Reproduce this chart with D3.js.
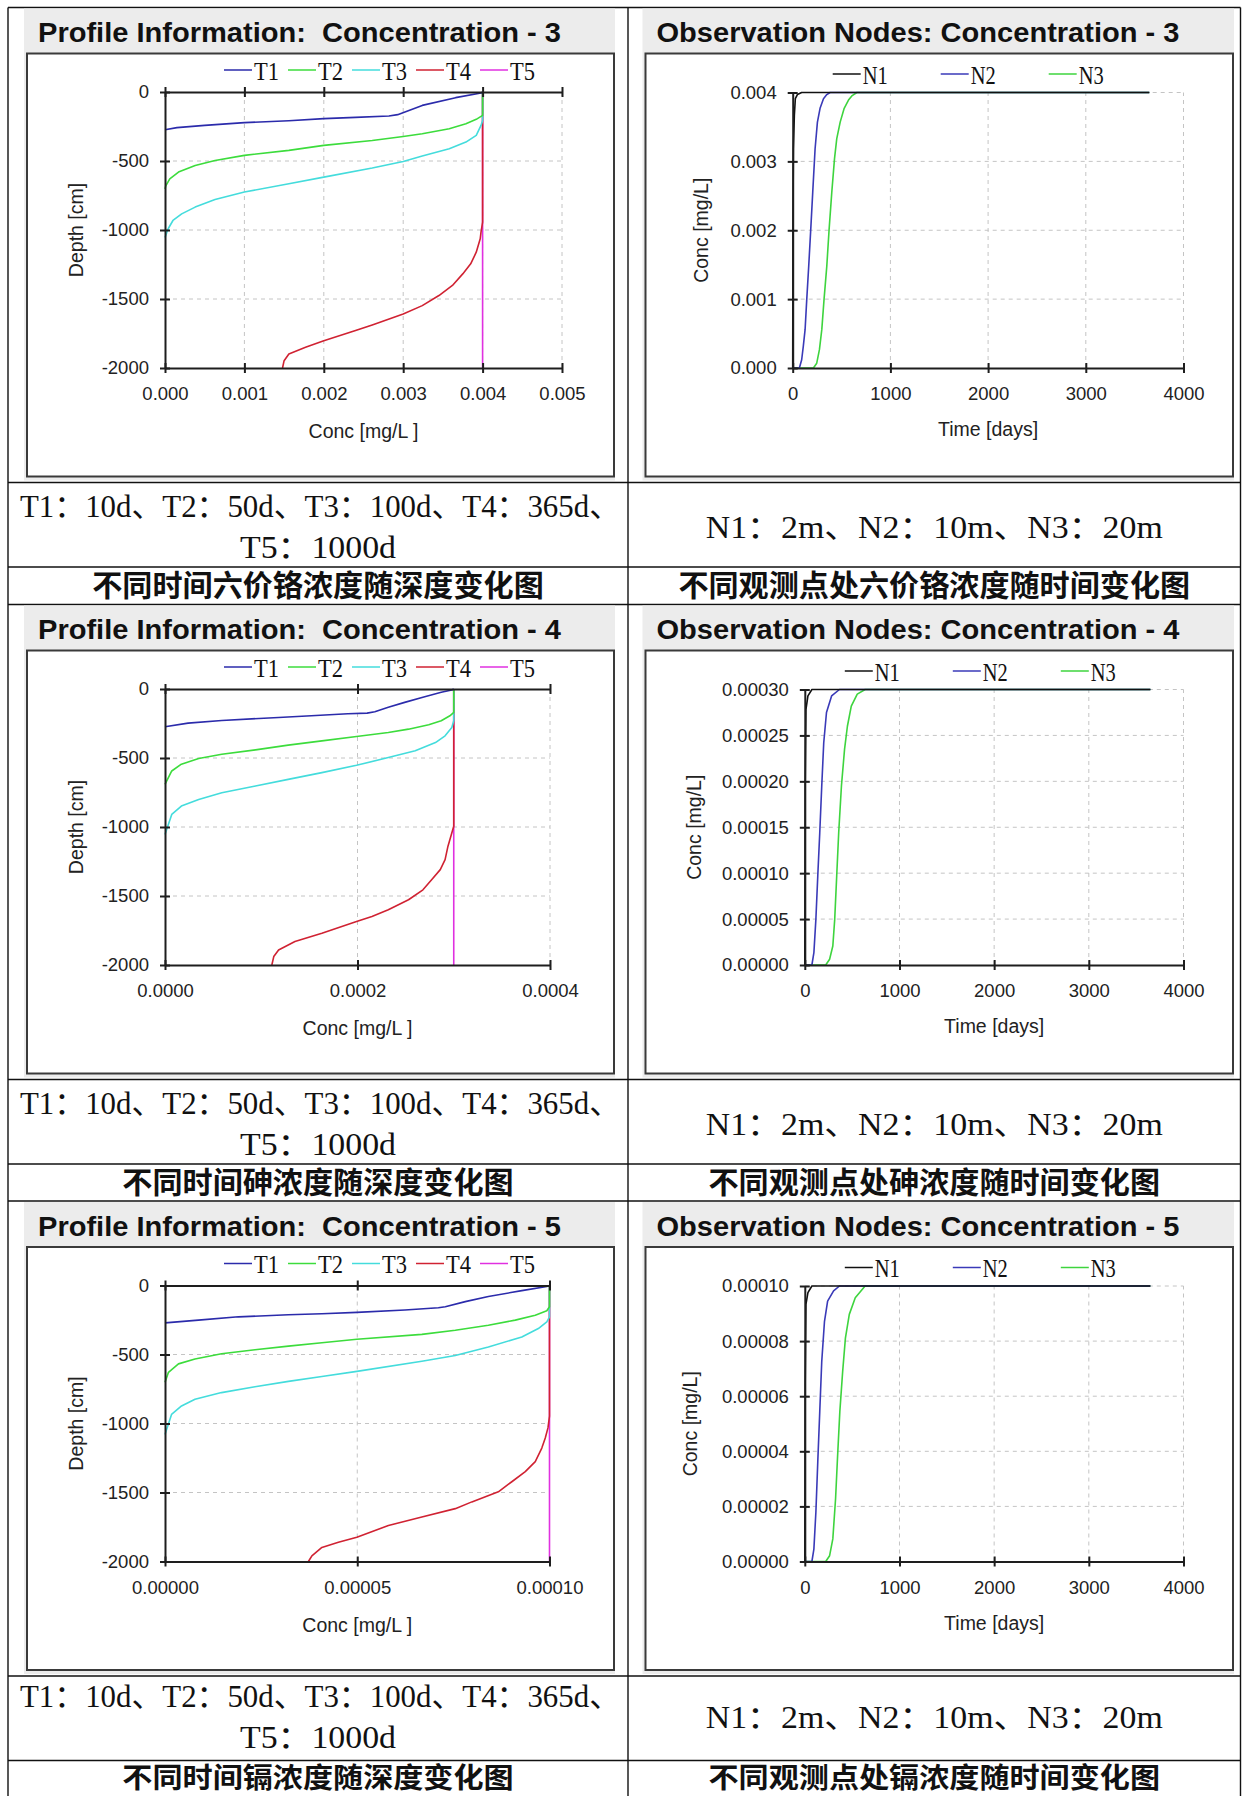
<!DOCTYPE html>
<html>
<head>
<meta charset="utf-8">
<title>HYDRUS concentration charts</title>
<script src="https://cdn.jsdelivr.net/npm/d3@7/dist/d3.min.js"></script>
<style>
	body { margin: 0; background: #ffffff; }
	svg { display: block; }
</style>
</head>
<body>
<svg id="sheet" width="1242" height="1796"></svg>
<script>

// ---- values ----

var profileNames = ["T1", "T2", "T3", "T4", "T5"];
var profileColors = ["#2b2bab", "#3cdc3c", "#44dcdc", "#d02232", "#e030e0"];
var nodeNames = ["N1", "N2", "N3"];
var nodeColors = ["#111111", "#3a3ab8", "#3ed43e"];

var depthTicks = [0, -500, -1000, -1500, -2000];
var depthLabels = ["0", "-500", "-1000", "-1500", "-2000"];
var timeTicks = [0, 1000, 2000, 3000, 4000];
var timeLabels = ["0", "1000", "2000", "3000", "4000"];

var prof3Ticks = [0, 0.001, 0.002, 0.003, 0.004, 0.005];
var prof3Labels = ["0.000", "0.001", "0.002", "0.003", "0.004", "0.005"];
var prof4Ticks = [0, 0.0002, 0.0004];
var prof4Labels = ["0.0000", "0.0002", "0.0004"];
var prof5Ticks = [0, 0.00005, 0.0001];
var prof5Labels = ["0.00000", "0.00005", "0.00010"];

var obs3Ticks = [0, 0.001, 0.002, 0.003, 0.004];
var obs3Labels = ["0.000", "0.001", "0.002", "0.003", "0.004"];
var obs4Ticks = [0, 0.00005, 0.0001, 0.00015, 0.0002, 0.00025, 0.0003];
var obs4Labels = ["0.00000", "0.00005", "0.00010", "0.00015", "0.00020", "0.00025", "0.00030"];
var obs5Ticks = [0, 0.00002, 0.00004, 0.00006, 0.00008, 0.0001];
var obs5Labels = ["0.00000", "0.00002", "0.00004", "0.00006", "0.00008", "0.00010"];

// profile points: [conc mg/L, depth cm]
var prof3T1 = [[0.004,0],[0.00398,-7],[0.00366,-41],[0.00324,-97],[0.00293,-164],[0.00282,-174],[0.0024,-184],[0.002,-193],[0.00156,-208],[0.001,-222],[0.0005,-242],[0.00015,-258],[0,-273]];
var prof3T2 = [[0.004,0],[0.004,-169],[0.00392,-198],[0.00379,-230],[0.00358,-266],[0.00324,-302],[0.003,-322],[0.00261,-351],[0.002,-387],[0.00156,-423],[0.001,-459],[0.00063,-496],[0.00038,-532],[0.00017,-580],[0.00006,-629],[0.00001,-680],[0,-702]];
var prof3T3 = [[0.004,0],[0.004,-206],[0.00398,-242],[0.00392,-314],[0.00379,-363],[0.00358,-411],[0.00324,-464],[0.003,-503],[0.00261,-551],[0.002,-617],[0.00156,-665],[0.001,-725],[0.00063,-779],[0.00038,-834],[0.00021,-883],[0.0001,-931],[0.00004,-991],[0,-1055]];
var prof3T4 = [[0.004,0],[0.004,-943],[0.00398,-1016],[0.00397,-1064],[0.00392,-1161],[0.00385,-1245],[0.00375,-1318],[0.00362,-1402],[0.00345,-1475],[0.00324,-1548],[0.003,-1608],[0.00261,-1688],[0.0024,-1729],[0.002,-1802],[0.00177,-1850],[0.00156,-1898],[0.0015,-1947],[0.00148,-2000]];
var prof3T5 = [[0.004,0],[0.004,-2000]];

var prof4T1 = [[0.0003,0],[0.000298,-7],[0.000287,-24],[0.000267,-61],[0.000249,-97],[0.000232,-133],[0.000218,-165],[0.00021,-175],[0.00019,-179],[0.000152,-194],[0.000118,-206],[0.000059,-228],[0.000024,-247],[0,-274]];
var prof4T2 = [[0.0003,0],[0.0003,-170],[0.000296,-194],[0.000287,-230],[0.000274,-259],[0.000253,-291],[0.000232,-315],[0.000199,-344],[0.000163,-376],[0.000128,-407],[0.000094,-441],[0.000059,-473],[0.000035,-504],[0.000017,-545],[0.000007,-594],[0,-691]];
var prof4T3 = [[0.0003,0],[0.0003,-230],[0.000298,-279],[0.000291,-339],[0.000281,-388],[0.00026,-448],[0.000232,-497],[0.000199,-553],[0.000163,-606],[0.000128,-655],[0.000094,-703],[0.000059,-752],[0.000035,-800],[0.000017,-848],[0.000007,-909],[0,-1055]];
var prof4T4 = [[0.0003,0],[0.0003,-994],[0.000297,-1067],[0.000294,-1139],[0.000291,-1236],[0.000286,-1309],[0.000277,-1382],[0.000268,-1455],[0.000253,-1527],[0.000232,-1600],[0.000215,-1648],[0.000199,-1685],[0.000163,-1770],[0.000135,-1830],[0.000118,-1891],[0.000113,-1939],[0.000111,-2000]];
var prof4T5 = [[0.0003,0],[0.0003,-2000]];

var prof5T1 = [[0.0001,0],[0.0000993,-7],[0.0000928,-37],[0.0000841,-80],[0.0000781,-117],[0.0000729,-154],[0.0000711,-161],[0.0000624,-178],[0.0000499,-195],[0.0000408,-205],[0.0000321,-212],[0.0000191,-227],[0.0000087,-251],[0,-271]];
var prof5T2 = [[0.0001,0],[0.0001,-154],[0.0000993,-183],[0.0000963,-215],[0.0000911,-251],[0.0000841,-288],[0.0000755,-324],[0.0000668,-354],[0.0000499,-390],[0.0000408,-415],[0.0000321,-439],[0.0000234,-466],[0.0000147,-495],[0.0000078,-532],[0.0000035,-568],[0.0000009,-629],[0,-702]];
var prof5T3 = [[0.0001,0],[0.0001,-227],[0.0000993,-263],[0.0000971,-312],[0.0000928,-373],[0.0000841,-446],[0.0000755,-507],[0.0000668,-549],[0.0000499,-622],[0.0000408,-659],[0.0000321,-695],[0.0000234,-734],[0.0000147,-776],[0.0000078,-824],[0.0000043,-873],[0.0000017,-934],[0,-1080]];
var prof5T4 = [[0.0001,0],[0.0001,-946],[0.0000996,-1032],[0.0000989,-1105],[0.000098,-1178],[0.0000963,-1276],[0.0000937,-1349],[0.0000902,-1422],[0.0000867,-1495],[0.0000798,-1568],[0.0000755,-1617],[0.0000668,-1678],[0.0000581,-1739],[0.0000499,-1824],[0.0000451,-1861],[0.0000408,-1898],[0.0000382,-1959],[0.0000373,-2000]];
var prof5T5 = [[0.0001,0],[0.0001,-2000]];

// observation points: [time days, conc mg/L]
var obs3N1 = [[0,0],[3,0.0022],[7,0.00318],[17,0.00367],[27,0.00391],[48,0.00397],[92,0.004],[3650,0.004]];
var obs3N2 = [[0,0],[68,0],[92,0.00012],[109,0.00032],[127,0.00056],[144,0.001],[164,0.00148],[185,0.00202],[205,0.00255],[229,0.00318],[253,0.00357],[280,0.00377],[315,0.00391],[349,0.00397],[383,0.004],[3650,0.004]];
var obs3N3 = [[0,0],[212,0],[246,0.00007],[274,0.00027],[298,0.00056],[321,0.001],[349,0.00148],[373,0.00202],[400,0.00255],[428,0.00304],[451,0.00333],[486,0.00357],[527,0.00377],[571,0.00389],[605,0.00395],[657,0.004],[3650,0.004]];

var obs4N1 = [[0,0],[4,0.000198],[12,0.000278],[33,0.000293],[75,0.0003],[3650,0.0003]];
var obs4N2 = [[0,0],[75,0],[96,0.0000134],[117,0.0000497],[137,0.0000969],[158,0.000144],[179,0.000195],[200,0.000242],[229,0.000275],[283,0.000293],[366,0.0003],[3650,0.0003]];
var obs4N3 = [[0,0],[221,0],[262,0.0000062],[296,0.0000207],[316,0.0000497],[337,0.0000969],[358,0.000144],[387,0.000195],[420,0.000235],[450,0.00026],[491,0.000282],[554,0.000295],[637,0.0003],[3650,0.0003]];

var obs5N1 = [[0,0],[4,0.0000641],[12,0.0000933],[33,0.0000976],[75,0.0001],[3650,0.0001]];
var obs5N2 = [[0,0],[75,0],[96,0.0000045],[117,0.0000179],[137,0.0000361],[158,0.0000544],[179,0.0000726],[208,0.0000872],[241,0.0000945],[304,0.0000982],[366,0.0001],[3650,0.0001]];
var obs5N3 = [[0,0],[221,0],[262,0.0000021],[296,0.0000082],[325,0.0000228],[345,0.0000373],[370,0.0000544],[400,0.000069],[429,0.0000811],[470,0.0000897],[533,0.0000957],[637,0.0001],[3650,0.0001]];

var profileTitles = ["Profile Information:  Concentration - 3", "Profile Information:  Concentration - 4", "Profile Information:  Concentration - 5"];
var nodeTitles = ["Observation Nodes: Concentration - 3", "Observation Nodes: Concentration - 4", "Observation Nodes: Concentration - 5"];
var timeNote = ["T1：10d、T2：50d、T3：100d、T4：365d、", "T5：1000d"];
var nodeNote = "N1：2m、N2：10m、N3：20m";
var profileCaptions = ["不同时间六价铬浓度随深度变化图", "不同时间砷浓度随深度变化图", "不同时间镉浓度随深度变化图"];
var nodeCaptions = ["不同观测点处六价铬浓度随时间变化图", "不同观测点处砷浓度随时间变化图", "不同观测点处镉浓度随时间变化图"];


// ---- look ----

var svg = d3.select("#sheet");
var W = 1242, H = 1796;

var rowTops = [7.5, 604.5, 1201];
var colX = [8, 628, 1240.5];

var tickFont = "'Liberation Sans', Arial, sans-serif";
var serifFont = "'Liberation Serif', 'Times New Roman', 'Noto Sans CJK SC', serif";
var cjkFont = "'Noto Sans CJK SC', sans-serif";
var axisColor = "#1e1e1e";
var gridColor = "#c4c4c4";
var panelGray = "#ececec";
var frameColor = "#3a3a3a";


function drawTable()
{
	var g = svg.append("g").attr("stroke", "#111").attr("stroke-width", 1.4);

	colX.forEach(function(x)
	{
		g.append("line").attr("x1", x).attr("x2", x).attr("y1", rowTops[0]).attr("y2", H + 5);
	});

	rowTops.forEach(function(t)
	{
		[t, t + 475, t + 559.5].forEach(function(y)
		{
			g.append("line").attr("x1", colX[0]).attr("x2", colX[2]).attr("y1", y).attr("y2", y);
		});
	});
}


function drawPanel(g, x0, x1, top, title)
{
	g.append("rect")
	.attr("x", x0).attr("y", top + 1)
	.attr("width", x1 - x0).attr("height", 472)
	.attr("fill", panelGray);

	g.append("text")
	.attr("x", x0 + 14).attr("y", top + 34.5)
	.attr("font-family", tickFont)
	.attr("font-weight", "bold")
	.attr("font-size", 28)
	.attr("textLength", 523)
	.attr("lengthAdjust", "spacingAndGlyphs")
	.attr("fill", "#111")
	.style("white-space", "pre")
	.text(title);

	g.append("rect")
	.attr("x", x0 + 3).attr("y", top + 46)
	.attr("width", x1 - x0 - 4).attr("height", 423)
	.attr("fill", "#ffffff")
	.attr("stroke", frameColor)
	.attr("stroke-width", 2);
}


function styleAxis(a, vertical)
{
	a.attr("font-family", tickFont).attr("font-size", 18.5);
	a.select(".domain").attr("stroke", axisColor).attr("stroke-width", 2);
	a.selectAll(".tick line").attr("stroke", axisColor).attr("stroke-width", 2);

	if (vertical)
		a.selectAll(".tick line").attr("x1", 5).attr("x2", -5);
	else
		a.selectAll(".tick line").attr("y1", -5).attr("y2", 5);

	a.selectAll(".tick text").attr("fill", "#222");
}


function drawLegend(g, names, colors, x0, pitch, lineY)
{
	for (var i = 0; i < names.length; i++)
	{
		var lx = x0 + i * pitch;

		g.append("line")
		.attr("x1", lx).attr("x2", lx + 28)
		.attr("y1", lineY).attr("y2", lineY)
		.attr("stroke", colors[i])
		.attr("stroke-width", 1.5);

		g.append("text")
		.attr("x", lx + 30).attr("y", lineY + 9.5)
		.attr("font-family", serifFont)
		.attr("font-size", 26)
		.attr("textLength", 25)
		.attr("lengthAdjust", "spacingAndGlyphs")
		.attr("fill", "#111")
		.text(names[i]);
	}
}


function drawProfile(row, c)
{
	var top = rowTops[row];
	var g = svg.append("g");

	drawPanel(g, 24, 615, top, c.title);

	var x = d3.scaleLinear().domain([0, c.xMax]).range([165, c.right]);
	var y = d3.scaleLinear().domain([-2000, 0]).range([top + 360.5, top + 84.5]);

	var grid = g.append("g")
	.attr("stroke", gridColor)
	.attr("stroke-width", 1)
	.attr("stroke-dasharray", "4,4");

	c.xTicks.slice(1).forEach(function(v)
	{
		grid.append("line").attr("x1", x(v)).attr("x2", x(v)).attr("y1", y(0)).attr("y2", y(-2000));
	});
	depthTicks.slice(1, -1).forEach(function(v)
	{
		grid.append("line").attr("x1", x(0)).attr("x2", x(c.xMax)).attr("y1", y(v)).attr("y2", y(v));
	});

	var line = d3.line()
	.x(function(d) { return x(d[0]); })
	.y(function(d) { return y(d[1]); });

	// T5 first so the early profiles sit on top
	for (var i = c.series.length - 1; i >= 0; i--)
	{
		g.append("path")
		.attr("d", line(c.series[i]))
		.attr("fill", "none")
		.attr("stroke", profileColors[i])
		.attr("stroke-width", 1.6)
		.attr("stroke-linejoin", "round");
	}

	var bottom = g.append("g")
	.attr("transform", "translate(0," + y(-2000) + ")")
	.call(d3.axisBottom(x).tickValues(c.xTicks)
		.tickFormat(function(d, i) { return c.xLabels[i]; })
		.tickSize(5).tickSizeOuter(0).tickPadding(14));
	styleAxis(bottom, false);

	var topAxis = g.append("g")
	.attr("transform", "translate(0," + y(0) + ")")
	.call(d3.axisTop(x).tickValues(c.xTicks)
		.tickFormat(function() { return ""; })
		.tickSize(5).tickSizeOuter(0));
	styleAxis(topAxis, false);

	var left = g.append("g")
	.attr("transform", "translate(" + x(0) + ",0)")
	.call(d3.axisLeft(y).tickValues(depthTicks)
		.tickFormat(function(d, i) { return depthLabels[i]; })
		.tickSize(5).tickSizeOuter(0).tickPadding(11));
	styleAxis(left, true);

	g.append("text")
	.attr("x", (x(0) + x(c.xMax)) / 2)
	.attr("y", y(-2000) + 70)
	.attr("text-anchor", "middle")
	.attr("font-family", tickFont)
	.attr("font-size", 19.5)
	.attr("fill", "#222")
	.style("white-space", "pre")
	.text("Conc [mg/L ]");

	g.append("text")
	.attr("transform", "translate(76," + (y(0) + y(-2000)) / 2 + ") rotate(-90)")
	.attr("dy", "0.35em")
	.attr("text-anchor", "middle")
	.attr("font-family", tickFont)
	.attr("font-size", 19.5)
	.attr("fill", "#222")
	.text("Depth [cm]");

	drawLegend(g, profileNames, profileColors, 224, 64, top + 62.5);
}


function drawNodes(row, c)
{
	var top = rowTops[row];
	var g = svg.append("g");

	drawPanel(g, 642.5, 1234, top, c.title);

	var x = d3.scaleLinear().domain([0, 4000]).range([c.left, 1183.5]);
	var y = d3.scaleLinear().domain([0, c.yMax]).range([top + 360.5, top + 85]);

	var grid = g.append("g")
	.attr("stroke", gridColor)
	.attr("stroke-width", 1)
	.attr("stroke-dasharray", "4,4");

	timeTicks.slice(1).forEach(function(v)
	{
		grid.append("line").attr("x1", x(v)).attr("x2", x(v)).attr("y1", y(0)).attr("y2", y(c.yMax));
	});
	c.yTicks.slice(1).forEach(function(v)
	{
		grid.append("line").attr("x1", x(0)).attr("x2", x(4000)).attr("y1", y(v)).attr("y2", y(v));
	});

	var line = d3.line()
	.x(function(d) { return x(d[0]); })
	.y(function(d) { return y(d[1]); });

	for (var i = c.series.length - 1; i >= 0; i--)
	{
		g.append("path")
		.attr("d", line(c.series[i]))
		.attr("fill", "none")
		.attr("stroke", nodeColors[i])
		.attr("stroke-width", 1.6)
		.attr("stroke-linejoin", "round");
	}

	var bottom = g.append("g")
	.attr("transform", "translate(0," + y(0) + ")")
	.call(d3.axisBottom(x).tickValues(timeTicks)
		.tickFormat(function(d, i) { return timeLabels[i]; })
		.tickSize(5).tickSizeOuter(0).tickPadding(14));
	styleAxis(bottom, false);

	var left = g.append("g")
	.attr("transform", "translate(" + x(0) + ",0)")
	.call(d3.axisLeft(y).tickValues(c.yTicks)
		.tickFormat(function(d, i) { return c.yLabels[i]; })
		.tickSize(5).tickSizeOuter(0).tickPadding(11));
	styleAxis(left, true);

	g.append("text")
	.attr("x", (x(0) + x(4000)) / 2)
	.attr("y", y(0) + 68)
	.attr("text-anchor", "middle")
	.attr("font-family", tickFont)
	.attr("font-size", 19.5)
	.attr("fill", "#222")
	.text("Time [days]");

	g.append("text")
	.attr("transform", "translate(" + c.yTitleX + "," + (y(0) + y(c.yMax)) / 2 + ") rotate(-90)")
	.attr("dy", "0.35em")
	.attr("text-anchor", "middle")
	.attr("font-family", tickFont)
	.attr("font-size", 19.5)
	.attr("fill", "#222")
	.text("Conc [mg/L]");

	drawLegend(g, nodeNames, nodeColors, c.left + 40, 108, top + 66.5);
}


function drawNotes(row)
{
	var top = rowTops[row];
	var g = svg.append("g").attr("fill", "#111");
	var midL = (colX[0] + colX[1]) / 2;
	var midR = (colX[1] + colX[2]) / 2;

	// the last caption row is cut by the page edge in the source:
	// keep it just inside and lift that row's notes a little
	var capY = top + 588.5, capSize = 29.5, lift = 0;
	if (capY > H - 10)
	{
		capY = H - 8.5;
		capSize = 28;
		lift = 3.5;
	}

	g.append("text")
	.attr("x", midL + 2).attr("y", top + 509 - lift)
	.attr("text-anchor", "middle")
	.attr("font-family", serifFont).attr("font-size", 31)
	.attr("textLength", 600).attr("lengthAdjust", "spacingAndGlyphs")
	.text(timeNote[0]);

	g.append("text")
	.attr("x", midL).attr("y", top + 550 - lift)
	.attr("text-anchor", "middle")
	.attr("font-family", serifFont).attr("font-size", 31)
	.attr("textLength", 156).attr("lengthAdjust", "spacingAndGlyphs")
	.text(timeNote[1]);

	g.append("text")
	.attr("x", midR).attr("y", top + 530 - lift)
	.attr("text-anchor", "middle")
	.attr("font-family", serifFont).attr("font-size", 31)
	.attr("textLength", 457).attr("lengthAdjust", "spacingAndGlyphs")
	.text(nodeNote);

	[[midL, profileCaptions[row]], [midR, nodeCaptions[row]]].forEach(function(p)
	{
		var n = p[1].length;
		g.append("text")
		.attr("x", p[0]).attr("y", capY)
		.attr("text-anchor", "middle")
		.attr("font-family", cjkFont).attr("font-size", capSize)
		.attr("font-weight", "bold")
		.attr("textLength", n * 30.1).attr("lengthAdjust", "spacingAndGlyphs")
		.text(p[1]);
	});
}


drawTable();

drawProfile(0, { title: profileTitles[0], xMax: 0.005, right: 562, xTicks: prof3Ticks, xLabels: prof3Labels,
	series: [prof3T1, prof3T2, prof3T3, prof3T4, prof3T5] });
drawProfile(1, { title: profileTitles[1], xMax: 0.0004, right: 550, xTicks: prof4Ticks, xLabels: prof4Labels,
	series: [prof4T1, prof4T2, prof4T3, prof4T4, prof4T5] });
drawProfile(2, { title: profileTitles[2], xMax: 0.0001, right: 549.5, xTicks: prof5Ticks, xLabels: prof5Labels,
	series: [prof5T1, prof5T2, prof5T3, prof5T4, prof5T5] });

drawNodes(0, { title: nodeTitles[0], yMax: 0.004, left: 792.7, yTitleX: 701.5, yTicks: obs3Ticks, yLabels: obs3Labels,
	series: [obs3N1, obs3N2, obs3N3] });
drawNodes(1, { title: nodeTitles[1], yMax: 0.0003, left: 804.8, yTitleX: 694, yTicks: obs4Ticks, yLabels: obs4Labels,
	series: [obs4N1, obs4N2, obs4N3] });
drawNodes(2, { title: nodeTitles[2], yMax: 0.0001, left: 804.8, yTitleX: 690, yTicks: obs5Ticks, yLabels: obs5Labels,
	series: [obs5N1, obs5N2, obs5N3] });

drawNotes(0);
drawNotes(1);
drawNotes(2);

</script>
</body>
</html>
